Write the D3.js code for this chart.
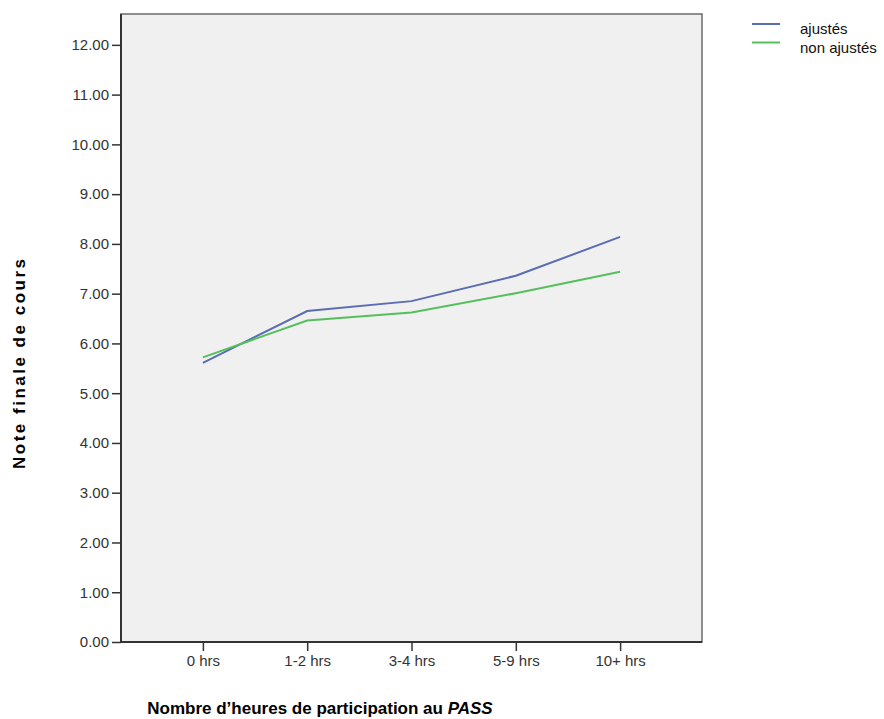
<!DOCTYPE html>
<html>
<head>
<meta charset="utf-8">
<script src="https://cdn.jsdelivr.net/npm/d3@7"></script>
<style>
  body { margin: 0; background: #fff; }
  text { font-family: "Liberation Sans", Arial, sans-serif; }
</style>
</head>
<body>
<svg width="884" height="719"></svg>
<script>
// categories and values
const categories = ["0 hrs", "1-2 hrs", "3-4 hrs", "5-9 hrs", "10+ hrs"];
const ajustes = [5.61, 6.65, 6.85, 7.36, 8.14];
const nonAjustes = [5.72, 6.46, 6.62, 7.01, 7.44];
const yTicks = [0, 1, 2, 3, 4, 5, 6, 7, 8, 9, 10, 11, 12];
const seriesNames = ["ajustés", "non ajustés"];
const colors = ["#5a6cb2", "#55bf5d"];

var svg = d3.select("svg");

// plot frame (don't use "top", it's window.top)
var plotLeft = 121, plotRight = 702, plotTop = 14, plotBottom = 642;

var x = d3.scalePoint()
    .domain(categories)
    .range([plotLeft, plotRight])
    .padding(0.785);

var y = d3.scaleLinear()
    .domain([0, 12.62])
    .range([plotBottom, plotTop]);

// plot background
svg.append("rect")
    .attr("x", plotLeft).attr("y", plotTop)
    .attr("width", plotRight - plotLeft).attr("height", plotBottom - plotTop)
    .attr("fill", "#f0f0f0")
    .attr("stroke", "#6b6b6b")
    .attr("stroke-width", 1.5);

// lines
var line = d3.line()
    .x(function(d, i) { return x(categories[i]); })
    .y(function(d) { return y(d); });

[ajustes, nonAjustes].forEach(function(vals, k) {
    svg.append("path")
        .datum(vals)
        .attr("fill", "none")
        .attr("stroke", colors[k])
        .attr("stroke-width", 2)
        .attr("d", line);
});

// y axis
var yAxis = svg.append("g")
    .attr("transform", "translate(" + plotLeft + ",0)")
    .call(d3.axisLeft(y).tickValues(yTicks).tickSize(9).tickPadding(3)
        .tickFormat(d3.format(".2f")).tickSizeOuter(0));
yAxis.select(".domain").attr("stroke", "#333").attr("stroke-width", 2)
    .attr("d", "M0," + plotTop + "V" + plotBottom);
yAxis.selectAll(".tick line").attr("stroke", "#333").attr("stroke-width", 1.5);
yAxis.selectAll(".tick text").attr("fill", "#333").style("font-size", "15px")
    .style("font-family", "'Liberation Sans', Arial, sans-serif");

// x axis
var xAxis = svg.append("g")
    .attr("transform", "translate(0," + plotBottom + ")")
    .call(d3.axisBottom(x).tickSize(9).tickPadding(4).tickSizeOuter(0));
xAxis.select(".domain").attr("stroke", "#333").attr("stroke-width", 2)
    .attr("d", "M" + plotLeft + ",0H" + plotRight);
xAxis.selectAll(".tick line").attr("stroke", "#333").attr("stroke-width", 1.5);
xAxis.selectAll(".tick text").attr("fill", "#333").style("font-size", "15px")
    .style("font-family", "'Liberation Sans', Arial, sans-serif");

// axis titles
svg.append("text")
    .attr("transform", "translate(25,364) rotate(-90)")
    .attr("text-anchor", "middle")
    .attr("textLength", 210)
    .attr("lengthAdjust", "spacing")
    .style("font-size", "17px")
    .style("font-weight", "bold")
    .text("Note finale de cours");

var xt = svg.append("text")
    .attr("x", 320).attr("y", 714)
    .attr("text-anchor", "middle")
    .style("font-size", "17px")
    .style("font-weight", "bold");
xt.append("tspan").text("Nombre d\u2019heures de participation au ");
xt.append("tspan").style("font-style", "italic").text("PASS");

// legend
var legend = svg.append("g").attr("transform", "translate(752,24)");
seriesNames.forEach(function(name, i) {
    var g = legend.append("g").attr("transform", "translate(0," + (i * 18.5) + ")");
    g.append("line")
        .attr("x1", 0).attr("x2", 28)
        .attr("stroke", colors[i]).attr("stroke-width", 2);
    g.append("text")
        .attr("x", 48).attr("y", 10)
        .style("font-size", "15px")
        .attr("fill", "#111")
        .text(name);
});
</script>
</body>
</html>
